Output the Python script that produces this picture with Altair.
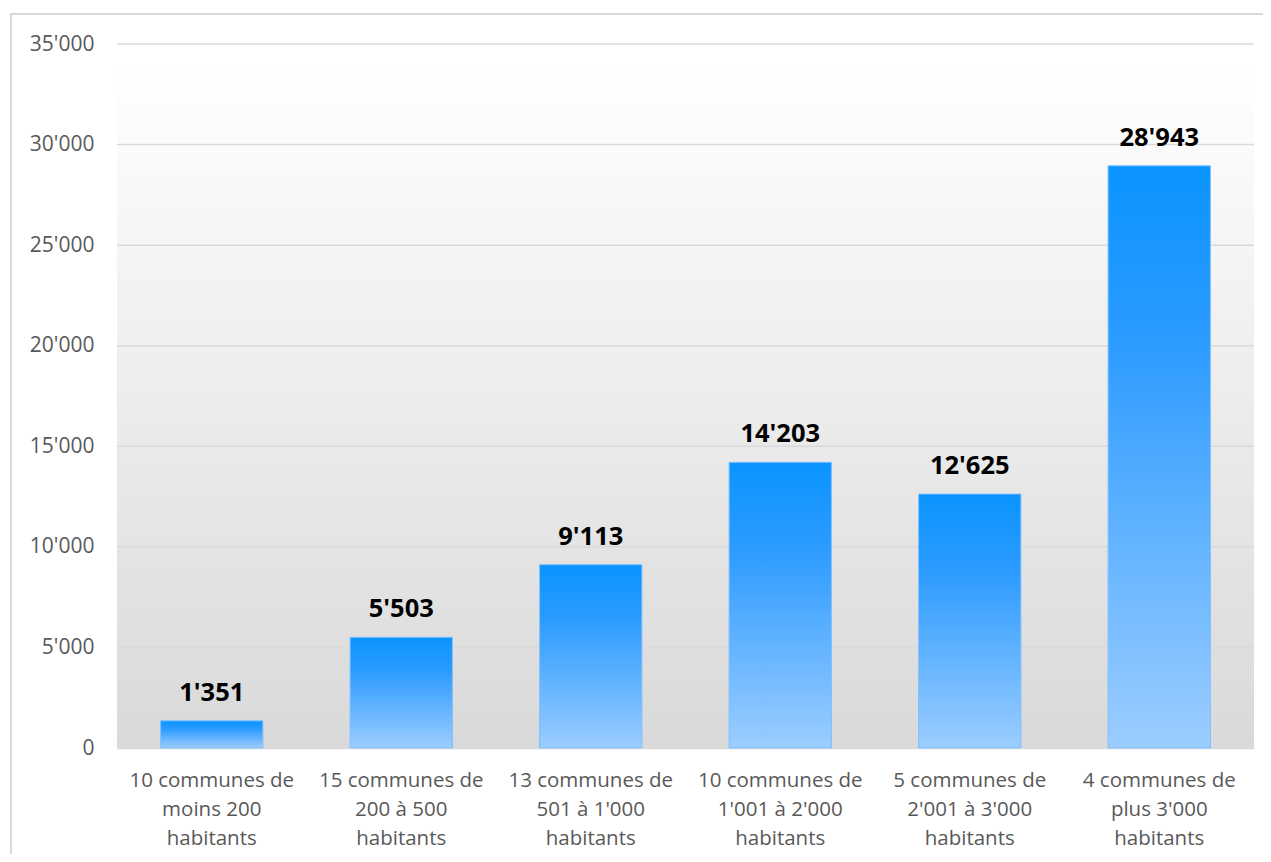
import altair as alt
import pandas as pd

categories = [
    "10 communes de|moins 200|habitants",
    "15 communes de|200 à 500|habitants",
    "13 communes de|501 à 1'000|habitants",
    "10 communes de|1'001 à 2'000|habitants",
    "5 communes de|2'001 à 3'000|habitants",
    "4 communes de|plus 3'000|habitants",
]
values = [1351, 5503, 9113, 14203, 12625, 28943]
y_ticks = [0, 5000, 10000, 15000, 20000, 25000, 30000, 35000]

df = pd.DataFrame({"cat": categories, "v": values})

W, H = 1137, 704
FONT = "Open Sans"

xenc = alt.X(
    "cat:N",
    sort=None,
    title=None,
    scale=alt.Scale(paddingInner=0.46, paddingOuter=0.23),
    axis=alt.Axis(
        labelExpr="split(datum.label, '|')",
        labelAngle=0,
        labelFont=FONT,
        labelFontSize=20.5,
        labelColor="#595959",
        labelLineHeight=29,
        labelPadding=22,
        labelBaseline="top",
        ticks=False,
        domain=True,
        domainColor="#d9d9d9",
        domainWidth=1.5,
        grid=False,
    ),
)
yscale = alt.Scale(domain=[0, 35000], nice=False)

background = alt.Chart(pd.DataFrame({"a": [0]})).mark_rect(
    color=alt.Gradient(
        gradient="linear",
        x1=0, x2=0, y1=0, y2=1,
        stops=[
            alt.GradientStop(color="#ffffff", offset=0),
            alt.GradientStop(color="#d9d9d9", offset=1),
        ],
    )
).encode(
    x=alt.value(0),
    x2=alt.value(W),
    y=alt.datum(33900, scale=yscale),
    y2=alt.datum(0),
)

grid = alt.Chart(pd.DataFrame({"g": y_ticks[1:]})).mark_rule(
    color="#d9d9d9", strokeWidth=1.5
).encode(
    x=alt.value(0),
    x2=alt.value(W),
    y=alt.Y("g:Q", scale=yscale),
)

bars = alt.Chart(df).mark_bar(
    color=alt.Gradient(
        gradient="linear",
        x1=0, x2=0, y1=0, y2=1,
        stops=[
            alt.GradientStop(color="#0a94ff", offset=0),
            alt.GradientStop(color="#2c9bff", offset=0.3),
            alt.GradientStop(color="#9ccdff", offset=1),
        ],
    ),
    stroke="#7fc0ff",
    strokeWidth=1,
).encode(
    x=xenc,
    y=alt.Y(
        "v:Q",
        scale=yscale,
        title=None,
        axis=alt.Axis(
            values=y_ticks,
            labelExpr="replace(format(datum.value, ','), ',', \"'\")",
            labelFont=FONT,
            labelFontSize=21,
            labelColor="#595959",
            labelPadding=23,
            ticks=False,
            tickSize=0,
            domain=False,
            grid=False,
        ),
    ),
)

labels = alt.Chart(df).transform_calculate(
    lab="replace(format(datum.v, ','), ',', \"'\")"
).mark_text(
    font=FONT,
    fontSize=25.5,
    fontWeight="bold",
    color="#000000",
    baseline="alphabetic",
    dy=-20,
).encode(
    x=alt.X("cat:N", sort=None),
    y=alt.Y("v:Q", scale=yscale),
    text="lab:N",
)

frame = alt.Chart(pd.DataFrame({"a": [0]})).mark_rect(
    fill=None, stroke="#d9d9d9", strokeWidth=2
).encode(
    x=alt.value(-106),
    x2=alt.value(W + 40),
    y=alt.value(-30),
    y2=alt.value(H + 200),
)

chart = alt.layer(background, grid, bars, labels, frame).properties(
    width=W,
    height=H,
    background="#ffffff",
    autosize=alt.AutoSizeParams(type="none"),
    padding={"left": 109, "top": 36, "right": 9, "bottom": 106},
).configure_view(stroke=None, strokeWidth=0)

chart.save("out.html", embed_options={"renderer": "svg", "actions": False})
